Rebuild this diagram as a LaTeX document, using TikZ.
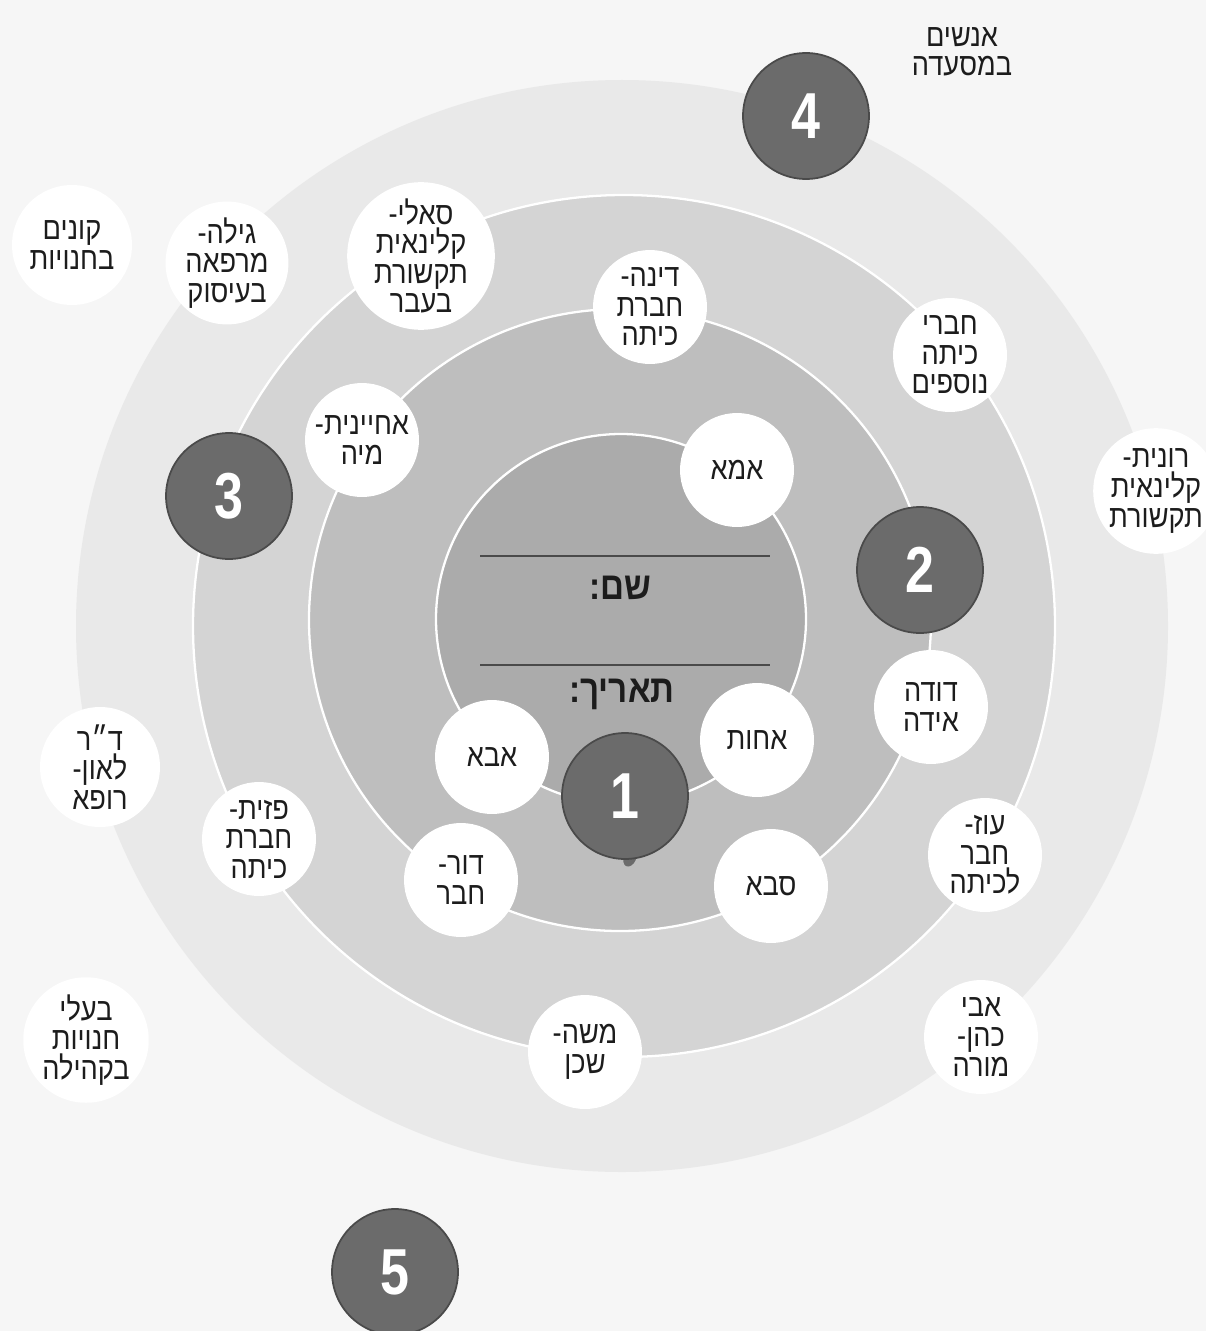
\documentclass[tikz,border=0pt]{standalone}
\usepackage{fontspec}
\setmainfont{Liberation Sans}
\newfontfamily\hebfont[Script=Hebrew,FakeStretch=0.86]{Liberation Sans}
\TeXXeTstate=1
\newcommand{\heb}[1]{{\hebfont\beginR #1\endR}}
\definecolor{bgpaper}{HTML}{F6F6F6}
\definecolor{ringone}{HTML}{ABABAB}
\definecolor{ringtwo}{HTML}{BEBEBE}
\definecolor{ringthree}{HTML}{D4D4D4}
\definecolor{ringfour}{HTML}{E9E9E9}
\definecolor{numfill}{HTML}{6B6B6B}
\definecolor{numline}{HTML}{4A4A4A}
\definecolor{inkgray}{HTML}{1C1C1C}

\begin{document}
\begin{tikzpicture}[x=0.02cm,y=-0.02cm,
    person/.style={circle,fill=white,minimum size=2.28cm,inner sep=0pt,align=center,
        text=inkgray,font=\fontsize{18}{16.8}\selectfont},
    faint/.style={person,minimum size=2.4cm},
    num/.style={circle,fill=numfill,draw=numline,line width=1pt,minimum size=2.52cm,
        inner sep=0pt,text=white,font=\bfseries\fontsize{37}{37}\selectfont},
    ring/.style={draw=white,line width=1.3pt}]
    \fill[bgpaper] (0,0) rectangle (1206,1331);
    \useasboundingbox (0,0) rectangle (1206,1331);
    \fill[ringfour] (622,626) circle[radius=546];
    \filldraw[ring,fill=ringthree] (624,626) circle[radius=431];
    \filldraw[ring,fill=ringtwo] (620,620) circle[radius=311];
    \filldraw[ring,fill=ringone] (621,619) circle[radius=185];

    \draw[numline,line width=1.2pt] (480,556) -- (770,556);
    \draw[numline,line width=1.2pt] (480,665) -- (770,665);
    \node[text=inkgray,font=\bfseries\fontsize{22}{22}\selectfont] (shem) at (620,588) {\heb{שם:}};
    \node[text=inkgray,font=\bfseries\fontsize{22}{22}\selectfont] (taarich) at (622,694) {\heb{תאריך:}};

    \node[person] (ima) at (737,470) {\heb{אמא}};
    \node[person] (ahot) at (757,740) {\heb{אחות}};
    \node[person] (aba) at (492,757) {\heb{אבא}};
    \node[person] (dor) at (461,880) {\heb{דור-}\\\heb{חבר}};
    \node[person] (saba) at (771,886) {\heb{סבא}};

    \node[person] (dina) at (650,307) {\heb{דינה-}\\\heb{חברת}\\\heb{כיתה}};
    \node[person] (ahyanit) at (362,440) {\heb{אחיינית-}\\\heb{מיה}};
    \node[person] (ida) at (931,707) {\heb{דודה}\\\heb{אידה}};
    \node[person] (pazit) at (259,839) {\heb{פזית-}\\\heb{חברת}\\\heb{כיתה}};
    \node[person] (moshe) at (585,1052) {\heb{משה-}\\\heb{שכן}};
    \node[person] (oz) at (985,855) {\heb{עוז-}\\\heb{חבר}\\\heb{לכיתה}};

    \node[person] (sali) at (421,256) {\heb{סאלי-}\\\heb{קלינאית}\\\heb{תקשורת}\\\heb{בעבר}};
    \node[person] (gila) at (227,263) {\heb{גילה-}\\\heb{מרפאה}\\\heb{בעיסוק}};
    \node[person] (haverei) at (950,355) {\heb{חברי}\\\heb{כיתה}\\\heb{נוספים}};
    \node[person] (avi) at (981,1037) {\heb{אבי}\\\heb{כהן-}\\\heb{מורה}};

    \node[faint] (konim) at (72,245) {\heb{קונים}\\\heb{בחנויות}};
    \node[faint] (ronit) at (1156,491) {\heb{רונית-}\\\heb{קלינאית}\\\heb{תקשורת}};
    \node[faint] (leon) at (100,767) {\heb{ד״ר}\\\heb{לאון-}\\\heb{רופא}};
    \node[faint] (baalei) at (86,1040) {\heb{בעלי}\\\heb{חנויות}\\\heb{בקהילה}};
    \node[person,fill=none] (anashim) at (962,52) {\heb{אנשים}\\\heb{במסעדה}};

    \fill[numfill,rotate around={-25:(630,858)}] (630,858) ellipse[x radius=6,y radius=9];
    \node[num] (one) at (625,796) {\scalebox{0.8}[1]{1}};
    \node[num] (two) at (920,570) {\scalebox{0.8}[1]{2}};
    \node[num] (three) at (229,496) {\scalebox{0.8}[1]{3}};
    \node[num] (four) at (806,116) {\scalebox{0.8}[1]{4}};
    \node[num] (five) at (395,1272) {\scalebox{0.8}[1]{5}};
\end{tikzpicture}
\end{document}
